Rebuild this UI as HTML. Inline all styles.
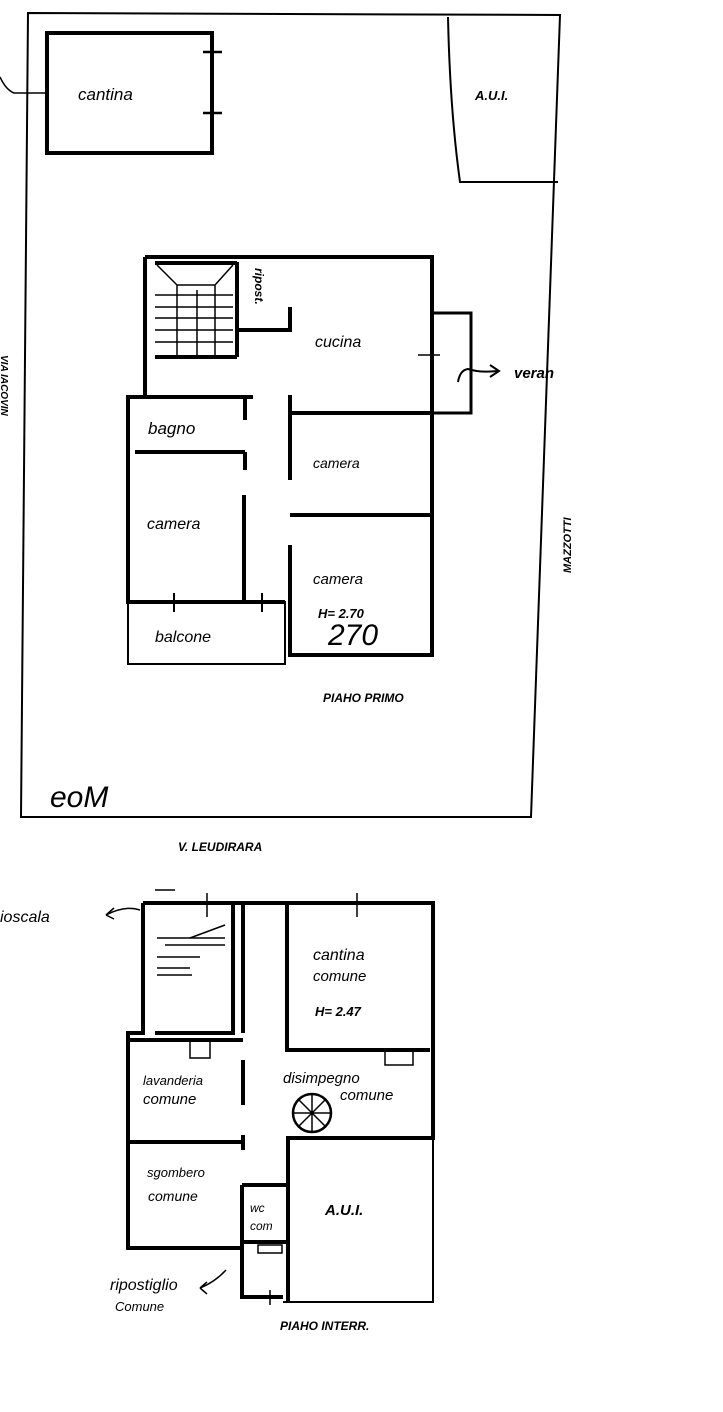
<!DOCTYPE html>
<html><head><meta charset="utf-8"><style>
html,body{margin:0;padding:0;background:#fff;}
svg{display:block}
text{font-family:"Liberation Sans",sans-serif;font-style:italic;fill:#000}
</style></head><body>
<svg width="723" height="1412" viewBox="0 0 723 1412" xmlns="http://www.w3.org/2000/svg">
<g fill="none" stroke="#000" stroke-width="2">
<!-- outer lot -->
<path d="M28 13 L560 15 L531 817 L21 817 Z"/>
<!-- cantina -->
<rect x="47" y="33" width="165" height="120" stroke-width="4"/>
<path d="M203 52 H222 M203 113 H222" stroke-width="2.5"/>
<path d="M0 77 Q6 90 14 93 L47 93" stroke-width="1.5"/>
<!-- AUI -->
<path d="M448 17 Q450 110 460 182 L558 182" />
<!-- house first floor -->
<g stroke-width="4">
<path d="M145 257 H432 V655 H290 V545"/>
<path d="M145 257 V397 H128 V602 H285"/>
<path d="M155 357 H237 M237 262 V357 M237 330 H290 V307"/>
<path d="M155 263 H237"/>
<path d="M290 413 H432 M290 515 H432 M290 395 V480"/>
<path d="M128 397 H253 M135 452 H245 M245 397 V420 M245 452 V470 M244 495 V602"/>
</g>
<!-- stairs -->
<g stroke-width="1.5">
<path d="M155 295 H233 M155 307 H233 M155 318 H233 M155 330 H233 M155 342 H233"/>
<path d="M177 285 V355 M197 290 V355 M215 285 V355 M157 265 L177 285 L215 285 L233 265"/>
</g>
<!-- veranda -->
<path d="M433 313 H471 V413 H433" stroke-width="3"/>
<path d="M458 382 Q460 370 468 369 Q480 373 497 371" stroke-width="2"/>
<path d="M490 365 L499 371 L490 377" stroke-width="2"/>
<path d="M418 355 H440" stroke-width="1.5"/>
<!-- balcone -->
<rect x="128" y="602" width="157" height="62" stroke-width="2"/>
<path d="M174 593 V612 M262 593 V612" stroke-width="2"/>
<!-- lower plan -->
<g stroke-width="4">
<path d="M143 903 H433 V1138 H288 V1302"/>
<path d="M143 903 V1033 H128 V1248 H243"/>
<path d="M155 1033 H233 V903 M243 903 V1033 M287 903 V1050 H430"/>
<path d="M128 1040 H243 M243 1060 V1105 M243 1135 V1150 M128 1142 H243"/>
<path d="M242 1185 V1297 H283 M242 1185 H288 M242 1242 H288"/>
</g>
<path d="M433 1138 V1302 H283" stroke-width="2"/>
<g stroke-width="1.5">
<path d="M157 938 H225 M157 957 H200 M157 975 H192 M165 945 H225 M157 968 H190"/>
<path d="M190 938 L225 925"/>
<path d="M207 893 V917 M357 893 V917 M155 890 H175"/>
<path d="M140 910 Q125 905 106 915 M106 915 L114 908 M106 915 L114 919"/>
<path d="M226 1270 Q215 1282 200 1288 M200 1288 L207 1282 M200 1288 L207 1294"/>
<path d="M190 1040 H210 V1058 H190 Z M385 1050 H413 V1065 H385 Z M258 1245 H282 V1253 H258 Z"/>
<path d="M270 1290 V1305"/>
</g>
<!-- wheel -->
<circle cx="312" cy="1113" r="19" stroke-width="2.5"/>
<path d="M293 1113 H331 M312 1094 V1132 M299 1100 L325 1126 M325 1100 L299 1126" stroke-width="1.5"/>
</g>
<g font-size="15">
<text x="78" y="100" font-size="17">cantina</text>
<text x="475" y="100" font-size="13" font-weight="bold" font-style="normal">A.U.I.</text>
<text x="315" y="347" font-size="16">cucina</text>
<text x="148" y="434" font-size="17">bagno</text>
<text x="313" y="468" font-size="14">camera</text>
<text x="147" y="529" font-size="16">camera</text>
<text x="313" y="584" font-size="15">camera</text>
<text x="318" y="618" font-size="13" font-weight="bold">H= 2.70</text>
<text x="328" y="645" font-size="30" font-style="normal">270</text>
<text x="155" y="642" font-size="16">balcone</text>
<text x="514" y="378" font-size="15" font-weight="bold" font-style="normal">veran</text>
<text x="323" y="702" font-size="12" font-weight="bold">PIAHO PRIMO</text>
<text x="50" y="807" font-size="30" font-style="normal">eoM</text>
<text x="178" y="851" font-size="12" font-weight="bold">V. LEUDIRARA</text>
<text transform="translate(255 268) rotate(90)" font-size="12" font-weight="bold">ripost.</text>
<text transform="translate(1 355) rotate(90)" font-size="10" font-weight="bold" font-style="normal">VIA IACOVIN</text>
<text transform="translate(571 573) rotate(-90)" font-size="11" font-weight="bold" font-style="normal">MAZZOTTI</text>
<text x="0" y="922" font-size="16">ioscala</text>
<text x="313" y="960" font-size="16">cantina</text>
<text x="313" y="981" font-size="15">comune</text>
<text x="315" y="1016" font-size="13" font-weight="bold">H= 2.47</text>
<text x="143" y="1085" font-size="13">lavanderia</text>
<text x="143" y="1104" font-size="15">comune</text>
<text x="283" y="1083" font-size="15">disimpegno</text>
<text x="340" y="1100" font-size="15">comune</text>
<text x="147" y="1177" font-size="13">sgombero</text>
<text x="148" y="1201" font-size="14">comune</text>
<text x="250" y="1212" font-size="12">wc</text>
<text x="250" y="1230" font-size="12">com</text>
<text x="325" y="1215" font-size="15" font-weight="bold" font-style="normal">A.U.I.</text>
<text x="110" y="1290" font-size="16">ripostiglio</text>
<text x="115" y="1311" font-size="13">Comune</text>
<text x="280" y="1330" font-size="12" font-weight="bold">PIAHO INTERR.</text>
</g>
</svg>
</body></html>
